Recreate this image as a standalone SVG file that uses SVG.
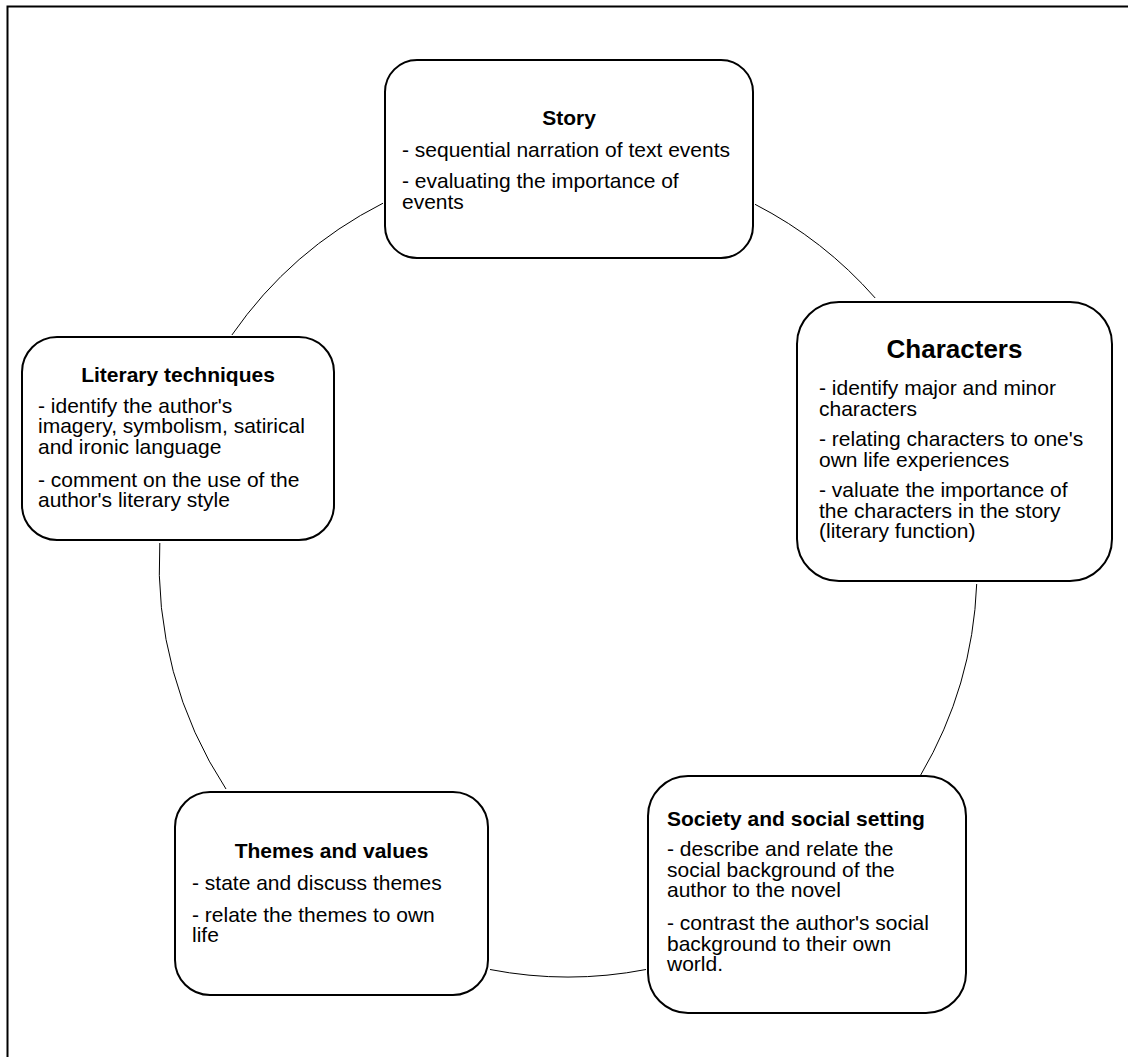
<svg xmlns="http://www.w3.org/2000/svg" width="1128" height="1057" viewBox="0 0 1128 1057">
<style>
.box{fill:#fff;stroke:#000;stroke-width:2}
.arc{fill:none;stroke:#000;stroke-width:1}
text{font-family:"Liberation Sans",Arial,sans-serif;font-size:21px;fill:#000}
.t{font-weight:bold;text-anchor:middle}
.tl{font-weight:bold}
</style>
<rect width="1128" height="1057" fill="#fff"/>
<path d="M7.5 1057 V6.5 H1128" fill="none" stroke="#000" stroke-width="2"/>
<g id="connectors">
<path class="arc" d="M755 204.3 A409 409 0 0 1 875.2 298"/>
<path class="arc" d="M976.7 584 A409 409 0 0 1 920.7 775"/>
<path class="arc" d="M646 969.5 A409 409 0 0 1 490 969.5"/>
<path class="arc" d="M226 789 A409 409 0 0 1 159.8 543"/>
<path class="arc" d="M231.9 335 A409 409 0 0 1 383 203.2"/>
</g>
<g id="story">
<rect class="box" x="385" y="60" width="368" height="198" rx="32"/>
<text class="t" x="569" y="125">Story</text>
<text x="402" y="157">- sequential narration of text events</text>
<text x="402" y="188">- evaluating the importance of</text>
<text x="402" y="209">events</text>
</g>
<g id="characters">
<rect class="box" x="797" y="302" width="315" height="279" rx="42"/>
<text class="t" x="954.5" y="358" style="font-size:26px">Characters</text>
<text x="819" y="395">- identify major and minor</text>
<text x="819" y="415.5">characters</text>
<text x="819" y="446">- relating characters to one's</text>
<text x="819" y="466.5">own life experiences</text>
<text x="819" y="497">- valuate the importance of</text>
<text x="819" y="517.5">the characters in the story</text>
<text x="819" y="538">(literary function)</text>
</g>
<g id="literary">
<rect class="box" x="22" y="337" width="312" height="203" rx="35"/>
<text class="t" x="178" y="381.5">Literary techniques</text>
<text x="38" y="412.5">- identify the author's</text>
<text x="38" y="433.2">imagery, symbolism, satirical</text>
<text x="38" y="454">and ironic language</text>
<text x="38" y="486.5">- comment on the use of the</text>
<text x="38" y="507.2">author's literary style</text>
</g>
<g id="themes">
<rect class="box" x="175" y="792" width="313" height="203" rx="35"/>
<text class="t" x="331.5" y="857.7">Themes and values</text>
<text x="192" y="890">- state and discuss themes</text>
<text x="192" y="921.5">- relate the themes to own</text>
<text x="192" y="942">life</text>
</g>
<g id="society">
<rect class="box" x="648" y="776" width="318" height="237" rx="40"/>
<text class="tl" x="667" y="826">Society and social setting</text>
<text x="667" y="856">- describe and relate the</text>
<text x="667" y="876.7">social background of the</text>
<text x="667" y="897.4">author to the novel</text>
<text x="667" y="930">- contrast the author's social</text>
<text x="667" y="950.7">background to their own</text>
<text x="667" y="971.4">world.</text>
</g>
</svg>
